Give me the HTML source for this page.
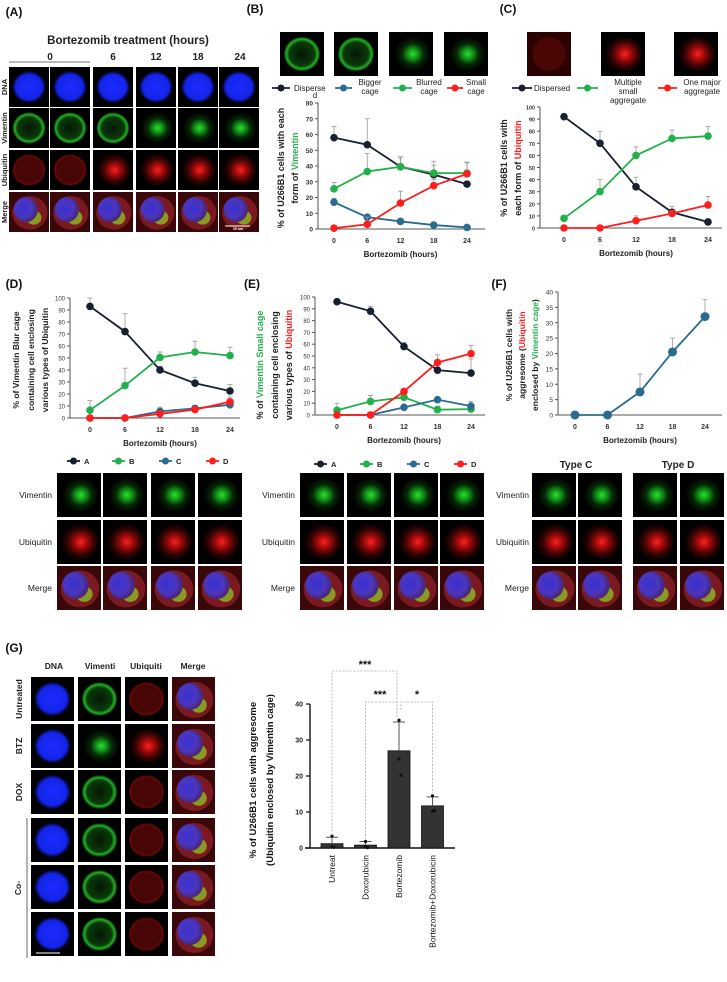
<!DOCTYPE html>
<html><head><meta charset="utf-8"><style>
body{margin:0;background:#fff}
svg{display:block;font-family:"Liberation Sans",sans-serif}
</style></head><body>
<svg id="fig" width="727" height="982" viewBox="0 0 727 982" xmlns="http://www.w3.org/2000/svg">
<defs>
<radialGradient id="gBlue" cx="50%" cy="50%" r="50%"><stop offset="0" stop-color="#1a2cff"/><stop offset="0.78" stop-color="#1424e8"/><stop offset="1" stop-color="#000010"/></radialGradient>
<radialGradient id="gGreen" cx="50%" cy="50%" r="50%"><stop offset="0" stop-color="#041804"/><stop offset="0.68" stop-color="#0a3a0a"/><stop offset="0.85" stop-color="#22b022"/><stop offset="1" stop-color="#000"/></radialGradient>
<radialGradient id="gGreenB" cx="55%" cy="50%" r="50%"><stop offset="0" stop-color="#2ee02e"/><stop offset="0.3" stop-color="#109018"/><stop offset="0.6" stop-color="#062806"/><stop offset="1" stop-color="#000"/></radialGradient>
<radialGradient id="gRed" cx="50%" cy="50%" r="50%"><stop offset="0" stop-color="#4a0606"/><stop offset="0.8" stop-color="#480505"/><stop offset="0.9" stop-color="#6a0808"/><stop offset="1" stop-color="#0a0000"/></radialGradient>
<radialGradient id="gRedB" cx="55%" cy="50%" r="50%"><stop offset="0" stop-color="#ff2020"/><stop offset="0.35" stop-color="#a00a0a"/><stop offset="0.7" stop-color="#3a0404"/><stop offset="1" stop-color="#0a0000"/></radialGradient>
<radialGradient id="gMerge" cx="42%" cy="45%" r="50%"><stop offset="0" stop-color="#3a30d0"/><stop offset="0.7" stop-color="#4a36c0"/><stop offset="1" stop-color="#4a2a80"/></radialGradient>
</defs>
</svg>
<script>
// ===== Chart data =====
const hours = [0, 6, 12, 18, 24];
// Panel B (Vimentin forms)
const bDispersed = [58, 53.5, 39.5, 34.5, 28.5];
const bDispersedErr = [7, 16.5, 6.5, 8.5, 0];
const bBigger = [17, 7.5, 4.8, 2.5, 1];
const bBiggerErr = [2.5, 1, 0.5, 0.5, 0];
const bBlurred = [25.5, 36.5, 39.5, 35.5, 35.5];
const bBlurredErr = [4, 11.5, 5.5, 5, 7];
const bSmall = [0.5, 3, 16.5, 27.5, 35];
const bSmallErr = [0, 4.5, 7.5, 4, 7];
const bTicks = [0, 10, 20, 30, 40, 50, 60, 70, 80];
// Panel C (Ubiquitin forms)
const cDispersed = [92, 70, 34, 13, 5];
const cDispersedErr = [2, 10, 8, 5, 0];
const cMultiple = [8, 30, 60, 74, 76];
const cMultipleErr = [2, 10, 7, 7, 8];
const cOneMajor = [0, 0, 6, 12, 19];
const cOneMajorErr = [0, 0, 4, 2, 7];
const cTicks = [0, 10, 20, 30, 40, 50, 60, 70, 80, 90, 100];
// Panel D
const dA = [93, 72, 40, 29, 22.5];
const dAErr = [7, 15, 3, 5, 5.5];
const dB = [6.5, 27, 50.5, 55, 52];
const dBErr = [8, 14.5, 4.5, 9, 7];
const dC = [0, 0, 5.5, 8, 11];
const dCErr = [0, 0, 3.5, 2.5, 2];
const dD = [0, 0, 3.5, 7, 13.5];
const dDErr = [0, 0, 1, 1, 4];
const pctTicks = [0, 10, 20, 30, 40, 50, 60, 70, 80, 90, 100];
// Panel E
const eA = [96, 88, 58, 38, 35.5];
const eAErr = [2, 4, 3.5, 2.5, 12];
const eB = [4, 11.5, 15, 4.5, 5];
const eBErr = [6, 5, 3, 3, 2];
const eC = [0, 0, 6.5, 13, 7.5];
const eCErr = [0, 0, 2, 2, 4];
const eD = [0, 0, 20, 44.5, 52];
const eDErr = [0, 0, 2, 6.5, 7];
// Panel F
const fAgg = [0, 0, 7.5, 20.5, 32];
const fAggErr = [1, 0, 5.8, 4.5, 5.5];
const fTicks = [0, 5, 10, 15, 20, 25, 30, 35, 40];
// Panel G bar chart
const gCategories = ["Untreat", "Doxorubicin", "Bortezomib", "Bortezomib+Doxorubicin"];
const gMeans = [1.2, 0.8, 27, 11.7];
const gErr = [1.8, 1.0, 8, 2.5];
const gPoints = [[3.3, 0.3, 0.2], [1.8, 0.4, 0.1], [35.5, 24.7, 20.2], [14.5, 10.2, 10.4]];
const gTicks = [0, 10, 20, 30, 40];

const NS = "http://www.w3.org/2000/svg";
const svg = document.getElementById("fig");
const COL = {dark:"#17202e", blue:"#2b6b90", green:"#22b04b", red:"#ff1d1d"};

function mk(tag, attrs, parent, text){
  const e = document.createElementNS(NS, tag);
  for (const k in attrs) e.setAttribute(k, attrs[k]);
  if (text !== undefined) e.textContent = text;
  (parent || svg).appendChild(e);
  return e;
}
function txt(x, y, s, size, opts, parent){
  opts = opts || {};
  const t = mk("text", {x:x, y:y, "font-size":size, "font-weight":opts.w||"bold", fill:opts.fill||"#222", "text-anchor":opts.a||"middle"}, parent, s);
  if (opts.rot) t.setAttribute("transform", "rotate(" + opts.rot + " " + x + " " + y + ")");
  return t;
}

// ===== Microscopy tiles =====
const fills = {dna:"url(#gBlue)", vim:"url(#gGreen)", vimB:"url(#gGreenB)", ubi:"url(#gRed)", ubiB:"url(#gRedB)", merge:"url(#gMerge)"};
function tile(x, y, w, h, kind, name){
  const g = mk("g", {});
  
  
  mk("rect", {x:x, y:y, width:w, height:h, fill:"#000"}, g);
  if (kind === "redbg") { mk("rect", {x:x, y:y, width:w, height:h, fill:"#2a0202"}, g); mk("circle", {cx:x+w/2, cy:y+h/2, r:w*0.38, fill:"#4a0505"}, g); return g; }
  const r = Math.min(w, h) * 0.42;
  if (kind === "merge") {
    mk("rect", {x:x, y:y, width:w, height:h, fill:"#3a0808"}, g);
    mk("ellipse", {cx:x+w*0.52, cy:y+h*0.52, rx:r*1.05, ry:r, fill:"#7a1a20"}, g);
    mk("ellipse", {cx:x+w*0.62, cy:y+h*0.64, rx:r*0.45, ry:r*0.42, fill:"#8a9a20"}, g);
    mk("ellipse", {cx:x+w*0.42, cy:y+h*0.44, rx:r*0.72, ry:r*0.75, fill:fills.merge}, g);
    return g;
  }
  mk("ellipse", {cx:x+w/2, cy:y+h/2, rx:r, ry:r*0.95, fill:fills[kind]}, g);
  return g;
}

// Panel A
txt(14, 16, "(A)", 12, {fill:"#111"});
txt(128, 44, "Bortezomib treatment (hours)", 11.5, {fill:"#222"});
[["0",50],["6",113],["12",156],["18",198],["24",240]].forEach(([s,x]) => txt(x, 60, s, 10, {fill:"#222"}));
mk("line", {x1:9, y1:62, x2:90, y2:62, stroke:"#444", "stroke-width":0.8});
const aCols = [9, 50, 93, 136, 178, 219];
const aRows = [[67,"dna","DNA"],[108,"vim","Vimentin"],[150,"ubi","Ubiquitin"],[192,"merge","Merge"]];
aRows.forEach(([y, k, lab]) => {
  txt(7, y + 20, lab, 7.5, {rot:-90, fill:"#222"});
  aCols.forEach((x, i) => tile(x, y, 40, 40, (k==="vim"&&i>=3)?"vimB":(k==="ubi"&&i>=2)?"ubiB":k, "panel-a-" + lab.toLowerCase() + "-" + i));
});
mk("line", {x1:225, y1:226, x2:250, y2:226, stroke:"#fff", "stroke-width":1});
txt(238, 230, "10 um", 3.5, {fill:"#fff"});

// ===== Line chart helper =====
function lineChart(cfg){
  const g = mk("g", {});
  
  
  const sx = v => cfg.x0 + (v - hours[0]) / (hours[hours.length-1] - hours[0]) * (cfg.x1 - cfg.x0);
  const sy = v => cfg.yb - v / cfg.ymax * (cfg.yb - cfg.yt);
  mk("line", {x1:cfg.ax, y1:cfg.yt, x2:cfg.ax, y2:cfg.yb, stroke:"#555", "stroke-width":1}, g);
  mk("line", {x1:cfg.ax, y1:cfg.yb, x2:cfg.axEnd, y2:cfg.yb, stroke:"#555", "stroke-width":1}, g);
  cfg.ticks.forEach(t => {
    mk("line", {x1:cfg.ax-3, y1:sy(t), x2:cfg.ax, y2:sy(t), stroke:"#555"}, g);
    const tl = txt(cfg.ax - 5, sy(t) + 2.5, String(t), cfg.tfs || 6.5, {a:"end", w:cfg.tw||"bold", fill:"#333"}, g);
    
  });
  hours.forEach(h => {
    const tl = txt(sx(h), cfg.yb + 14, String(h), 7, {fill:"#333"}, g);
    
  });
  const xl = txt((cfg.x0 + cfg.x1)/2, cfg.yb + 28, "Bortezomib (hours)", 8, {fill:"#222"}, g);
  
  cfg.series.forEach(s => {
    const sg = mk("g", {}, g);
    
    
    s.vals.forEach((v, i) => {
      if (s.err && s.err[i] > 0) {
        mk("line", {x1:sx(hours[i]), y1:sy(v), x2:sx(hours[i]), y2:sy(v + s.err[i]), stroke:"#999", "stroke-width":0.8}, sg);
        mk("line", {x1:sx(hours[i])-2.5, y1:sy(v + s.err[i]), x2:sx(hours[i])+2.5, y2:sy(v + s.err[i]), stroke:"#999", "stroke-width":0.8}, sg);
      }
    });
    mk("polyline", {points: s.vals.map((v, i) => sx(hours[i]) + "," + sy(v)).join(" "), fill:"none", stroke:s.color, "stroke-width":1.8}, sg);
    s.vals.forEach((v, i) => {
      const c = mk("circle", {cx:sx(hours[i]), cy:sy(v), r:cfg.r || 3.8, fill:s.color}, sg);
      
    });
  });
  return g;
}
function legendItem(x1, x2, y, color, name){
  const g = mk("g", {});
  
  
  mk("line", {x1:x1, y1:y, x2:x2, y2:y, stroke:color, "stroke-width":1.8}, g);
  mk("circle", {cx:(x1+x2)/2, cy:y, r:3.5, fill:color}, g);
  return g;
}

// Panel B
txt(255, 13, "(B)", 12, {fill:"#111"});
[280, 334, 389, 444].forEach((x, i) => tile(x, 32, 44, 44, i<2?"vim":"vimB", "panel-b-image-" + i));
legendItem(272, 290, 88, COL.dark, "legend-dispersed");
txt(294, 91, "Disperse", 8, {a:"start", w:"normal"}); txt(315, 98, "d", 8, {w:"normal"});
legendItem(335, 352, 88, COL.blue, "legend-bigger-cage");
txt(370, 85, "Bigger", 8, {w:"normal"}); txt(370, 94, "cage", 8, {w:"normal"});
legendItem(393, 412, 88, COL.green, "legend-blurred-cage");
txt(429, 85, "Blurred", 8, {w:"normal"}); txt(429, 94, "cage", 8, {w:"normal"});
legendItem(447, 463, 88, COL.red, "legend-small-cage");
txt(476, 85, "Small", 8, {w:"normal"}); txt(476, 94, "cage", 8, {w:"normal"});
lineChart({name:"panel-b-chart", ax:318, axEnd:485, x0:334, x1:467, yt:103, yb:229, ymax:80, ticks:bTicks,
  series:[{name:"dispersed",vals:bDispersed,err:bDispersedErr,color:COL.dark},{name:"bigger-cage",vals:bBigger,err:bBiggerErr,color:COL.blue},
  {name:"blurred-cage",vals:bBlurred,err:bBlurredErr,color:COL.green},{name:"small-cage",vals:bSmall,err:bSmallErr,color:COL.red}]});
{const t=txt(284, 168, "% of  U266B1 cells with each", 9, {rot:-90, fill:"#222"}); 
 const t2=mk("text",{x:298,y:168,"font-size":9,"font-weight":"bold","text-anchor":"middle",transform:"rotate(-90 298 168)"});
 
 mk("tspan",{fill:"#222"},t2,"form of "); mk("tspan",{fill:COL.green},t2,"Vimentin");}

// Panel C
txt(508, 13, "(C)", 12, {fill:"#111"});
[527, 601, 674].forEach((x, i) => tile(x, 32, 44, 44, i===0?"redbg":"ubiB", "panel-c-image-" + i));
legendItem(512, 532, 88, COL.dark, "legend-c-dispersed");
txt(534, 91, "Dispersed", 8, {a:"start", w:"normal"});
legendItem(577, 598, 88, COL.green, "legend-c-multiple");
txt(628, 85, "Multiple", 8, {w:"normal"}); txt(628, 94, "small", 8, {w:"normal"}); txt(628, 103, "aggregate", 8, {w:"normal"});
legendItem(658, 677, 88, COL.red, "legend-c-one-major");
txt(702, 85, "One major", 8, {w:"normal"}); txt(702, 94, "aggregate", 8, {w:"normal"});
lineChart({name:"panel-c-chart", ax:540, axEnd:722, x0:564, x1:708, yt:107, yb:228, ymax:100, ticks:cTicks, tfs:5.5,
  series:[{name:"c-dispersed",vals:cDispersed,err:cDispersedErr,color:COL.dark},{name:"c-multiple",vals:cMultiple,err:cMultipleErr,color:COL.green},
  {name:"c-one-major",vals:cOneMajor,err:cOneMajorErr,color:COL.red}]});
{const t=txt(507, 168, "% of  U266B1 cells with", 9, {rot:-90, fill:"#222"}); 
 const t2=mk("text",{x:521,y:168,"font-size":9,"font-weight":"bold","text-anchor":"middle",transform:"rotate(-90 521 168)"});
 
 mk("tspan",{fill:"#222"},t2,"each form of "); mk("tspan",{fill:COL.red},t2,"Ubiquitin");}

// Panel D
txt(14, 288, "(D)", 12, {fill:"#111"});
lineChart({name:"panel-d-chart", ax:70, axEnd:240, x0:90, x1:230, yt:298, yb:418, ymax:100, ticks:pctTicks, tfs:6, tw:"normal",
  series:[{name:"d-a",vals:dA,err:dAErr,color:COL.dark},{name:"d-b",vals:dB,err:dBErr,color:COL.green},
  {name:"d-c",vals:dC,err:dCErr,color:COL.blue},{name:"d-d",vals:dD,err:dDErr,color:COL.red}]});
txt(19, 360, "% of  Vimentin Blur cage", 8.5, {rot:-90}); txt(34, 360, "containing cell enclosing", 8.5, {rot:-90}); txt(48, 360, "various types of Ubiquitin", 8.5, {rot:-90});

// Panel E
txt(252, 288, "(E)", 12, {fill:"#111"});
lineChart({name:"panel-e-chart", ax:315, axEnd:485, x0:337, x1:471, yt:297, yb:415, ymax:100, ticks:pctTicks, tfs:6, tw:"normal",
  series:[{name:"e-a",vals:eA,err:eAErr,color:COL.dark},{name:"e-b",vals:eB,err:eBErr,color:COL.green},
  {name:"e-c",vals:eC,err:eCErr,color:COL.blue},{name:"e-d",vals:eD,err:eDErr,color:COL.red}]});
{const t=mk("text",{x:263,y:365,"font-size":9,"font-weight":"bold","text-anchor":"middle",transform:"rotate(-90 263 365)"});
 mk("tspan",{fill:"#222"},t,"% of  "); mk("tspan",{fill:COL.green},t,"Vimentin Small cage");
 txt(278, 365, "containing cell enclosing", 9, {rot:-90});
 const t3=mk("text",{x:292,y:365,"font-size":9,"font-weight":"bold","text-anchor":"middle",transform:"rotate(-90 292 365)"});
 mk("tspan",{fill:"#222"},t3,"various types of "); mk("tspan",{fill:COL.red},t3,"Ubiquitin");}

// Panel F
txt(499, 288, "(F)", 12, {fill:"#111"});
lineChart({name:"panel-f-chart", ax:558, axEnd:722, x0:575, x1:705, yt:292, yb:415, ymax:40, ticks:fTicks, tfs:6.5, tw:"normal", r:4.5,
  series:[{name:"f-aggresome",vals:fAgg,err:fAggErr,color:COL.blue}]});
txt(512, 355, "% of  U266B1 cells with", 8.5, {rot:-90});
{const t=mk("text",{x:525,y:355,"font-size":8.5,"font-weight":"bold","text-anchor":"middle",transform:"rotate(-90 525 355)"});
 mk("tspan",{fill:"#222"},t,"aggresome ("); mk("tspan",{fill:COL.red},t,"Ubiquitin");
 const t2=mk("text",{x:538,y:355,"font-size":8.5,"font-weight":"bold","text-anchor":"middle",transform:"rotate(-90 538 355)"});
 mk("tspan",{fill:"#222"},t2,"enclosed by "); mk("tspan",{fill:COL.green},t2,"Vimentin cage"); mk("tspan",{fill:"#222"},t2,")");}

// Legends for D/E
[[83,"A",COL.dark],[128,"B",COL.green],[175,"C",COL.blue],[222,"D",COL.red]].forEach(([x,l,c]) => {legendItem(x-16, x-3, 461, c, "legend-d-" + l); txt(x+1, 464, l, 7.5, {a:"start"});});
[[330,"A",COL.dark],[376,"B",COL.green],[423,"C",COL.blue],[470,"D",COL.red]].forEach(([x,l,c]) => {legendItem(x-16, x-3, 464, c, "legend-e-" + l); txt(x+1, 467, l, 7.5, {a:"start"});});
txt(576, 468, "Type C", 10); txt(678, 468, "Type D", 10);

// D/E/F image grids
const gridRows = [[473,"vim","Vimentin"],[520,"ubi","Ubiquitin"],[566,"merge","Merge"]];
function grid(cols, labelX, prefix){
  gridRows.forEach(([y, k, lab]) => {
    txt(labelX, y + 25, lab, 8.5, {a:"end", w:"normal"});
    cols.forEach((x, i) => tile(x, y, 44, 44, k==="vim"?"vimB":k==="ubi"?"ubiB":k, prefix + "-" + lab.toLowerCase() + "-" + i));
  });
}
grid([57, 103, 151, 198], 52, "panel-d-image");
grid([300, 347, 394, 440], 295, "panel-e-image");
grid([532, 578, 633, 680], 529, "panel-f-image");

// Panel G images
txt(14, 652, "(G)", 12, {fill:"#111"});
[["DNA",54],["Vimenti",100],["Ubiquiti",146],["Merge",193]].forEach(([s,x]) => txt(x, 669, s, 8.5));
const gRowsY = [677, 724, 770, 818, 865, 912];
const gRowLabels = ["Untreated","BTZ","DOX"];
const gColsX = [31, 78, 125, 172];
const gKinds = ["dna","vim","ubi","merge"];
gRowsY.forEach((y, r) => {
  if (r < 3) txt(22, y + 22, gRowLabels[r], 8.5, {rot:-90});
  gColsX.forEach((x, c) => tile(x, y, 43, 44, r===1&&c===1?"vimB":r===1&&c===2?"ubiB":gKinds[c], "panel-g-image-" + r + "-" + c));
});
mk("line", {x1:27, y1:818, x2:27, y2:958, stroke:"#444", "stroke-width":0.8});
txt(21, 888, "Co-", 8.5, {rot:-90});
mk("line", {x1:36, y1:953, x2:60, y2:953, stroke:"#fff", "stroke-width":1});

// ===== Panel G bar chart =====
{
  const g = mk("g", {});
  
  
  const ax = 310, yb = 848, yt = 704, ymax = 40;
  const sy = v => yb - v / ymax * (yb - yt);
  const bx = i => 332 + i * 33.5;
  mk("line", {x1:ax, y1:yt, x2:ax, y2:yb, stroke:"#111", "stroke-width":1.4}, g);
  mk("line", {x1:ax-5, y1:yb, x2:455, y2:yb, stroke:"#111", "stroke-width":1.4}, g);
  gTicks.forEach(t => {
    mk("line", {x1:ax-4, y1:sy(t), x2:ax, y2:sy(t), stroke:"#111", "stroke-width":1.2}, g);
    txt(ax - 7, sy(t) + 2.5, String(t), 7, {a:"end"}, g);
  });
  gMeans.forEach((v, i) => {
    const b = mk("rect", {x:bx(i)-11, y:sy(v), width:22, height:yb - sy(v), fill:"#333", stroke:"#111", "stroke-width":0.8}, g);
    
    mk("line", {x1:bx(i), y1:sy(v), x2:bx(i), y2:sy(v + gErr[i]), stroke:"#555", "stroke-width":1}, g);
    mk("line", {x1:bx(i)-6, y1:sy(v + gErr[i]), x2:bx(i)+6, y2:sy(v + gErr[i]), stroke:"#555", "stroke-width":1}, g);
    gPoints[i].forEach((p, j) => mk("circle", {cx:bx(i) + (j===2?2:0), cy:sy(p), r:1.6, fill:"#111"}, g));
    const tl = txt(bx(i) + 3, 855, gCategories[i], 8.5, {a:"end", rot:-90, w:"normal", fill:"#111"}, g);
    
  });
  const br = (x1, x2, y, y1, y2) => mk("polyline", {points:`${x1},${y1} ${x1},${y} ${x2},${y} ${x2},${y2}`, fill:"none", stroke:"#aaa", "stroke-width":0.8, "stroke-dasharray":"2,1.5"}, g);
  br(bx(0), bx(2)-2, 671, sy(gMeans[0]+gErr[0])-2, sy(35.5)-3);
  br(bx(1), bx(2)-2, 702, sy(gMeans[1]+gErr[1])-2, 710);
  br(bx(2)+2, bx(3), 702, 710, sy(14.5)-3);
  txt(365, 668, "***", 11, {fill:"#111"}, g);
  txt(380, 698, "***", 11, {fill:"#111"}, g);
  txt(417, 698, "*", 11, {fill:"#111"}, g);
  const y1 = txt(256, 780, "% of  U266B1 cells with aggresome", 9.5, {rot:-90, fill:"#111"}, g);
  
  txt(273, 780, "(Ubiquitin enclosed by Vimentin cage)", 9.5, {rot:-90, fill:"#111"}, g);
}
</script>
</body></html>
